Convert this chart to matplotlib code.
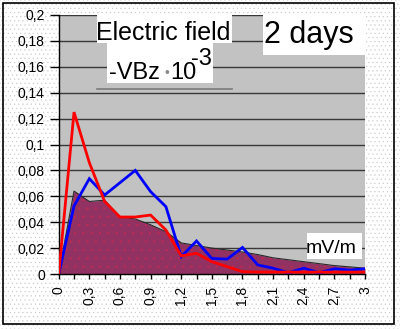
import matplotlib.pyplot as plt
from matplotlib.patches import Rectangle
from matplotlib.lines import Line2D

plt.rcParams['font.family'] = ['Liberation Sans', 'DejaVu Sans']
plt.rcParams['hatch.linewidth'] = 0.3

# field values, mV/m
x_vals = [0, 0.15, 0.3, 0.45, 0.6, 0.75, 0.9, 1.05, 1.2, 1.35, 1.5,
          1.65, 1.8, 1.95, 2.1, 2.25, 2.4, 2.55, 2.7, 2.85, 3.0]
area_vals = [0, 0.064, 0.056, 0.057, 0.044, 0.0425, 0.038, 0.0327, 0.024,
             0.022, 0.020, 0.0185, 0.017, 0.015, 0.0125, 0.011, 0.0095,
             0.008, 0.0065, 0.0055, 0.0045]
blue_vals = [0, 0.0525, 0.0736, 0.061, 0.0705, 0.080, 0.0636, 0.052, 0.0134,
             0.0255, 0.012, 0.0115, 0.0205, 0.007, 0.0045, 0.001, 0.0045,
             0.001, 0.004, 0.003, 0.004]
red_vals = [0, 0.125, 0.086, 0.056, 0.044, 0.044, 0.0455, 0.034, 0.014,
            0.016, 0.0095, 0.0057, 0.0018, 0.0015, 0.0015, 0.0015, 0.0015,
            0.0015, 0.0015, 0.0015, 0.0015]

y_ticks = [0, 0.02, 0.04, 0.06, 0.08, 0.1, 0.12, 0.14, 0.16, 0.18, 0.2]
y_labels = ["0", "0,02", "0,04", "0,06", "0,08", "0,1", "0,12", "0,14",
            "0,16", "0,18", "0,2"]
x_ticks = [0, 0.3, 0.6, 0.9, 1.2, 1.5, 1.8, 2.1, 2.4, 2.7, 3.0]
x_labels = ["0", "0,3", "0,6", "0,9", "1,2", "1,5", "1,8", "2,1", "2,4",
            "2,7", "3"]

W, H = 400, 329


def fx(px):
    return px / W


def fy(py):
    return 1 - py / H


fig = plt.figure(figsize=(4, 3.29), dpi=100)
fig.patch.set_facecolor('white')

# dotted paper background and outer frame
fig.add_artist(Rectangle((0, 0), 1, 1, transform=fig.transFigure,
                         facecolor='none', edgecolor='#c4c4c4', lw=0,
                         hatch='....', zorder=-5))
fig.add_artist(Rectangle((fx(3), fy(324)), fx(391), 321 / H,
                         transform=fig.transFigure, fill=False,
                         edgecolor='black', lw=1.2, zorder=5))

ax = fig.add_axes([fx(58.7), fy(274), fx(365 - 58.7), (274 - 15) / H])
ax.set_facecolor('#c2c2c2')

ax.fill_between(x_vals, area_vals, color='#913263', lw=0, zorder=2)
ax.fill_between(x_vals, area_vals, facecolor='none', edgecolor='#c8284f',
                lw=0, hatch='..', zorder=2)
ax.plot(x_vals, area_vals, color='#2a2a2a', lw=0.8, zorder=3)
ax.plot(x_vals, blue_vals, color='#0000ff', lw=2.0, zorder=4,
        solid_joinstyle='miter')
ax.plot(x_vals, red_vals, color='#ff0000', lw=2.0, zorder=5,
        solid_joinstyle='miter')

ax.set_xlim(0, 3)
ax.set_ylim(0, 0.2)
ax.set_yticks(y_ticks)
ax.set_yticklabels(y_labels)
ax.set_xticks(x_ticks)
ax.set_xticklabels(x_labels, rotation=90)
ax.set_xticks(x_vals, minor=True)
ax.yaxis.grid(True, color='#383838', lw=1.0)
ax.set_axisbelow(True)
ax.tick_params(axis='y', length=6.5, width=1, pad=3.5, labelsize=10)
ax.tick_params(axis='x', which='both', length=3.6, width=1, pad=5,
               labelsize=10)
for s in ['top', 'right']:
    ax.spines[s].set_visible(False)
for s in ['left', 'bottom']:
    ax.spines[s].set_color('black')
    ax.spines[s].set_linewidth(1)

# white label boxes
for x0, y0, x1, y1 in [(97, 15, 232, 43), (107, 43, 213, 83),
                       (263, 15, 365, 55), (307, 233, 362, 259)]:
    fig.add_artist(Rectangle((fx(x0), fy(y1)), (x1 - x0) / W, (y1 - y0) / H,
                             transform=fig.transFigure, facecolor='white',
                             lw=0, zorder=3))
fig.add_artist(Line2D([fx(97), fx(232)], [fy(89.5), fy(89.5)],
                      transform=fig.transFigure, color='#7a7a7a', lw=1.2,
                      zorder=3))

fig.text(fx(96), fy(40), "Electric field", fontsize=18, va='baseline',
         zorder=4)
fig.text(fx(109), fy(79), "-VBz", fontsize=17, va='baseline', zorder=4)
fig.text(fx(167), fy(73), "\u2022", fontsize=10, color='#8a8a8a',
         ha='center', va='center', zorder=4)
fig.text(fx(170), fy(79), "10", fontsize=17, va='baseline', zorder=4)
fig.text(fx(191), fy(65), "-3", fontsize=17, va='baseline', zorder=4)
fig.text(fx(264), fy(43), "2 days", fontsize=22, va='baseline', zorder=4)
fig.text(fx(306), fy(253), "mV/m", fontsize=14, va='baseline', zorder=4)

fig.savefig('out.png', dpi=100)
